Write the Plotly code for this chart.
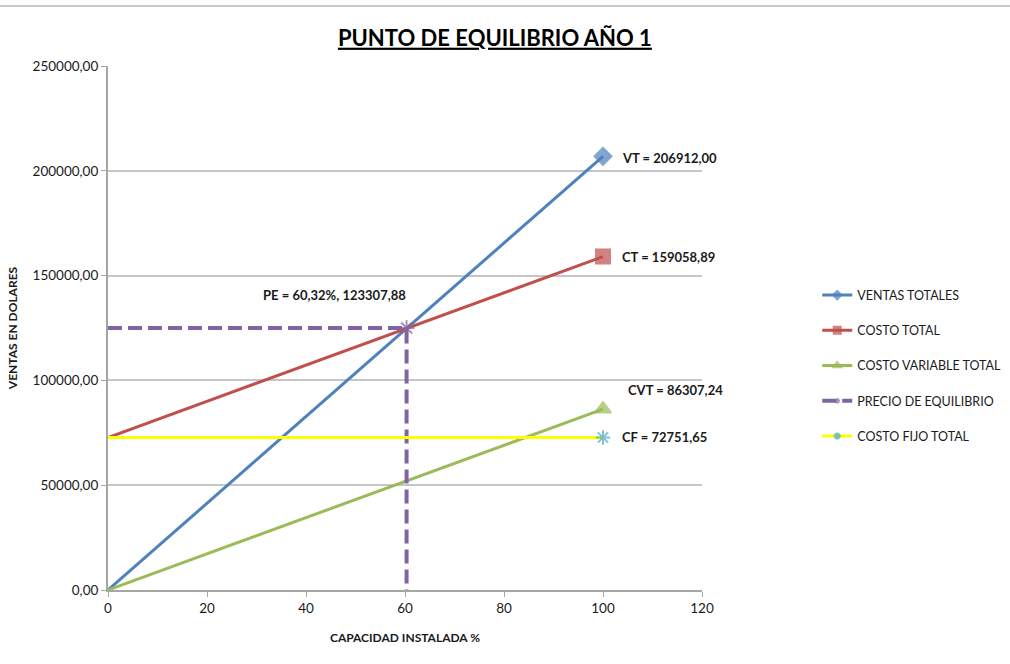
import plotly.graph_objects as go

capacidad = [0, 100]
ventas_totales = [0, 206912.00]
costo_total = [72751.65, 159058.89]
costo_variable = [0, 86307.24]
costo_fijo = [72751.65, 72751.65]
pe_x = [0, 60.32, 60.32]
pe_y = [125000, 125000, 0]
pe_pct = 60.32
pe_val = 123307.88

FONT = "Lato, sans-serif"
TXT = "#1a1a1a"

fig = go.Figure()

def add(name, x, y, color, symbol, msize, width=3, dash=None, group=None, mcolor=None, msizes=None):
    fig.add_trace(go.Scatter(
        x=x, y=y, name=name, mode="lines+markers",
        line=dict(color=color, width=width, dash=dash),
        marker=dict(symbol=symbol, size=msizes if msizes else [0, msize],
                    color=mcolor or color, line=dict(color=mcolor or color, width=2)),
        legendgroup=group or name,
    ))

add("VENTAS TOTALES", capacidad, ventas_totales, "#4F81BD", "diamond", 13)
add("COSTO TOTAL", capacidad, costo_total, "#C0504D", "square", 14)
add("COSTO VARIABLE TOTAL", capacidad, costo_variable, "#9BBB59", "triangle-up", 14)
add("PRECIO DE EQUILIBRIO", pe_x, pe_y, "#8064A2", "asterisk", 12, width=4, dash="14px,6px",
    msizes=[0, 13, 0])
add("COSTO FIJO TOTAL", capacidad, costo_fijo, "#FFFF00", "asterisk", 12, mcolor="#4BACC6")

ann_font = dict(family=FONT, size=13, color=TXT)
anns = [
    (103.4, 206100, "<b>VT = 206912,00</b>", "left"),
    (103.4, 158900, "<b>CT = 159058,89</b>", "left"),
    (45.8, 140700, "<b>PE = 60,32%, 123307,88</b>", "center"),
    (104.6, 95400, "<b>CVT = 86307,24</b>", "left"),
    (103.4, 73000, "<b>CF = 72751,65</b>", "left"),
]
for x, y, t, xa in anns:
    fig.add_annotation(x=x, y=y, text=t, showarrow=False, xanchor=xa, yanchor="middle", font=ann_font)

# top border line of the page
fig.add_shape(type="line", xref="paper", yref="paper", x0=-108/594, x1=902/594,
              y0=1.1145, y1=1.1145, line=dict(color="#c8c8c8", width=2))

fig.update_layout(
    width=1010, height=664,
    margin=dict(l=108, r=308, t=66, b=74, autoexpand=False),
    paper_bgcolor="white", plot_bgcolor="white",
    separators=",.",
    font=dict(family=FONT, size=12, color=TXT),
    title=dict(text="<b><u>PUNTO DE EQUILIBRIO AÑO 1</u></b>", x=0.49, xanchor="center",
               y=1 - 38/664, yanchor="middle", font=dict(family=FONT, size=22, color="#000")),
    legend=dict(x=1.194, y=0.4275, xanchor="left", yanchor="middle", tracegroupgap=16,
                font=dict(family=FONT, size=12.5, color=TXT), bgcolor="rgba(0,0,0,0)"),
    showlegend=True,
)
fig.update_xaxes(range=[0, 120], dtick=20, tick0=0, showgrid=False, zeroline=False,
                 showline=True, linecolor="#a6a6a6", linewidth=2,
                 ticks="outside", ticklen=5, tickcolor="#a6a6a6",
                 tickfont=dict(family=FONT, size=13.5, color=TXT),
                 title=dict(text="<b>CAPACIDAD INSTALADA %</b>", standoff=18,
                            font=dict(family=FONT, size=12, color=TXT)))
fig.update_yaxes(range=[0, 250000], dtick=50000, tickformat=".2f", showgrid=True,
                 gridcolor="#c6c6c6", gridwidth=2, zeroline=False,
                 showline=True, linecolor="#a6a6a6", linewidth=2,
                 ticks="outside", ticklen=5, tickcolor="#a6a6a6",
                 tickfont=dict(family=FONT, size=13.5, color=TXT),
                 title=dict(text="<b>VENTAS EN DOLARES</b>", standoff=12,
                            font=dict(family=FONT, size=12, color=TXT)))

fig.write_html("out.html")
